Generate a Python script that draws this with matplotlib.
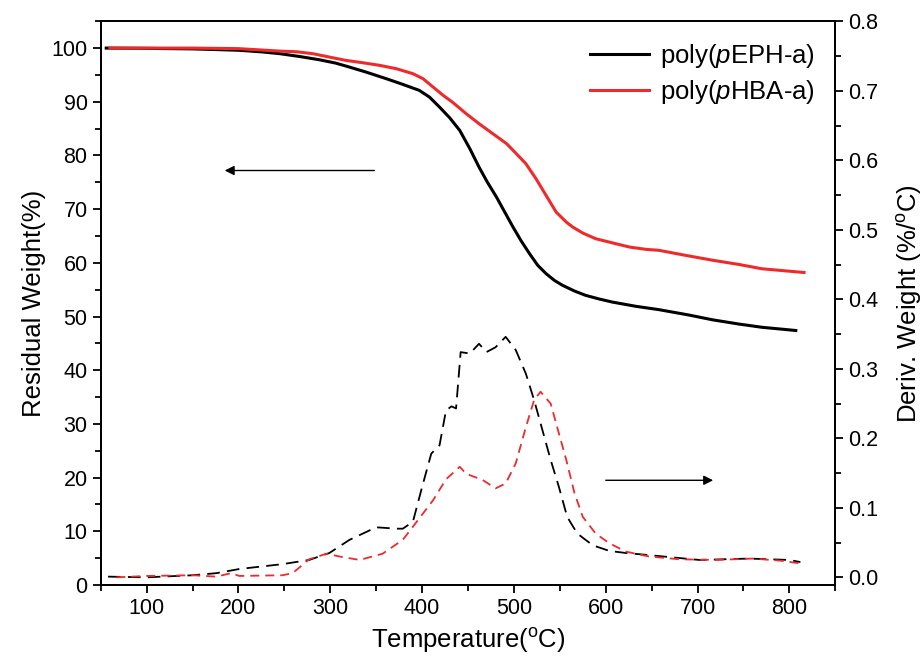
import matplotlib
matplotlib.use('Agg')
import matplotlib.pyplot as plt
from matplotlib.ticker import MultipleLocator, FormatStrFormatter

plt.rcParams['font.family'] = 'Liberation Sans'
plt.rcParams['mathtext.fontset'] = 'custom'
plt.rcParams['mathtext.rm'] = 'Liberation Sans'
plt.rcParams['mathtext.it'] = 'Liberation Sans:italic'

# TGA curves (residual weight, %)
t_eph = [56, 100, 150, 200, 225, 245, 266, 288, 306, 321, 339, 361, 379, 397, 408, 419,
         430, 441, 452, 462, 471, 481, 490, 499, 508, 517, 526, 535, 544, 553, 566,
         578, 593, 607, 633, 658, 690, 716, 745, 770, 807]
w_eph = [100.0, 99.95, 99.85, 99.6, 99.3, 98.96, 98.45, 97.83, 97.2, 96.46, 95.53, 94.3,
         93.24, 92.12, 90.88, 89.01, 87.03, 84.67, 81.26, 77.84, 75.05, 72.25, 69.46,
         66.67, 64.06, 61.71, 59.53, 57.99, 56.74, 55.81, 54.75, 53.95, 53.26, 52.7,
         51.9, 51.28, 50.3, 49.4, 48.6, 48.0, 47.4]

t_hba = [60, 100, 150, 200, 245, 263, 281, 299, 317, 335, 354, 372, 390, 401, 412, 423,
         433, 448, 462, 477, 492, 502, 513, 524, 535, 546, 557, 564, 575, 589, 608,
         626, 644, 658, 690, 716, 745, 770, 816]
w_hba = [100.0, 100.0, 100.0, 99.9, 99.44, 99.32, 98.96, 98.33, 97.71, 97.28, 96.78,
         96.16, 95.23, 94.3, 92.74, 91.19, 89.94, 87.78, 85.92, 84.06, 82.2, 80.45,
         78.47, 75.68, 72.57, 69.46, 67.6, 66.67, 65.55, 64.5, 63.69, 62.94, 62.51,
         62.33, 61.3, 60.5, 59.7, 58.9, 58.2]

# derivative curves (%/oC)
td_eph = [58, 100, 150, 176, 201, 248, 277, 299, 321, 350, 372, 379, 390, 400, 410, 419,
          426, 432, 437, 442, 452, 462, 470, 480, 491, 502, 513, 522, 531, 540, 549,
          558, 569, 586, 604, 622, 647, 702, 756, 800, 812]
d_eph = [0.001, 0.0, 0.003, 0.006, 0.012, 0.019, 0.025, 0.035, 0.054, 0.072, 0.070,
         0.070, 0.080, 0.130, 0.178, 0.190, 0.240, 0.246, 0.243, 0.324, 0.322, 0.336,
         0.324, 0.331, 0.346, 0.327, 0.293, 0.255, 0.212, 0.169, 0.130, 0.087, 0.063,
         0.046, 0.038, 0.035, 0.032, 0.025, 0.027, 0.025, 0.022]

td_hba = [67, 100, 150, 176, 192, 201, 248, 259, 277, 296, 310, 332, 357, 379, 393, 412,
          426, 441, 448, 466, 480, 491, 502, 513, 522, 529, 540, 549, 557, 566, 575,
          589, 604, 622, 647, 680, 720, 760, 790, 812]
d_hba = [0.0, 0.002, 0.003, 0.001, 0.006, 0.002, 0.003, 0.006, 0.026, 0.034, 0.030,
         0.025, 0.034, 0.054, 0.078, 0.111, 0.141, 0.159, 0.149, 0.140, 0.128, 0.135,
         0.164, 0.216, 0.255, 0.267, 0.250, 0.207, 0.169, 0.121, 0.087, 0.063, 0.049,
         0.037, 0.030, 0.026, 0.025, 0.027, 0.024, 0.020]

red = '#ee2a2a'

fig = plt.figure(figsize=(9.24, 6.64), dpi=100)
ax = fig.add_axes([0.109, 0.119, 0.795, 0.849])
ax2 = ax.twinx()

ax.plot(t_eph, w_eph, color='black', lw=2.2, label='poly($\\it{p}$EPH-a)')
ax.plot(t_hba, w_hba, color=red, lw=2.2, label='poly($\\it{p}$HBA-a)')
ax2.plot(td_eph, d_eph, color='black', lw=1.3, linestyle=(0, (7, 4)))
ax2.plot(td_hba, d_hba, color=red, lw=1.3, linestyle=(0, (5, 3.3)))

ax.set_xlim(50, 850)
ax.set_ylim(0, 105)
ax2.set_ylim(-0.011, 0.8)

ax.xaxis.set_major_locator(MultipleLocator(100))
ax.xaxis.set_minor_locator(MultipleLocator(50))
ax.yaxis.set_major_locator(MultipleLocator(10))
ax.yaxis.set_minor_locator(MultipleLocator(5))
ax2.yaxis.set_major_locator(MultipleLocator(0.1))
ax2.yaxis.set_minor_locator(MultipleLocator(0.05))
ax2.yaxis.set_major_formatter(FormatStrFormatter('%.1f'))

for a in (ax, ax2):
    a.tick_params(which='major', direction='out', length=6, width=1.3, labelsize=15.5)
    a.tick_params(which='minor', direction='out', length=4, width=1.3)
    for s in a.spines.values():
        s.set_linewidth(1.3)
ax.tick_params(top=False, right=False)

ax.set_xlabel('Temperature($^{\\rm o}$C)', fontsize=18.5, labelpad=5)
ax.set_ylabel('Residual Weight(%)', fontsize=18.5, labelpad=4)
ax2.set_ylabel('Deriv. Weight (%/$^{\\rm o}$C)', fontsize=18.5, labelpad=12)

ax.annotate('', xy=(182, 77.2), xytext=(351, 77.2),
            arrowprops=dict(arrowstyle='-|>', color='black', lw=1, mutation_scale=14))
ax.annotate('', xy=(720, 19.5), xytext=(597, 19.5),
            arrowprops=dict(arrowstyle='-|>', color='black', lw=1, mutation_scale=14))

ax.legend(loc='upper right', frameon=False, fontsize=18.5, handlelength=2.3,
          handletextpad=0.4, borderaxespad=0.4, labelspacing=0.3)

fig.savefig('out.png', dpi=100)
